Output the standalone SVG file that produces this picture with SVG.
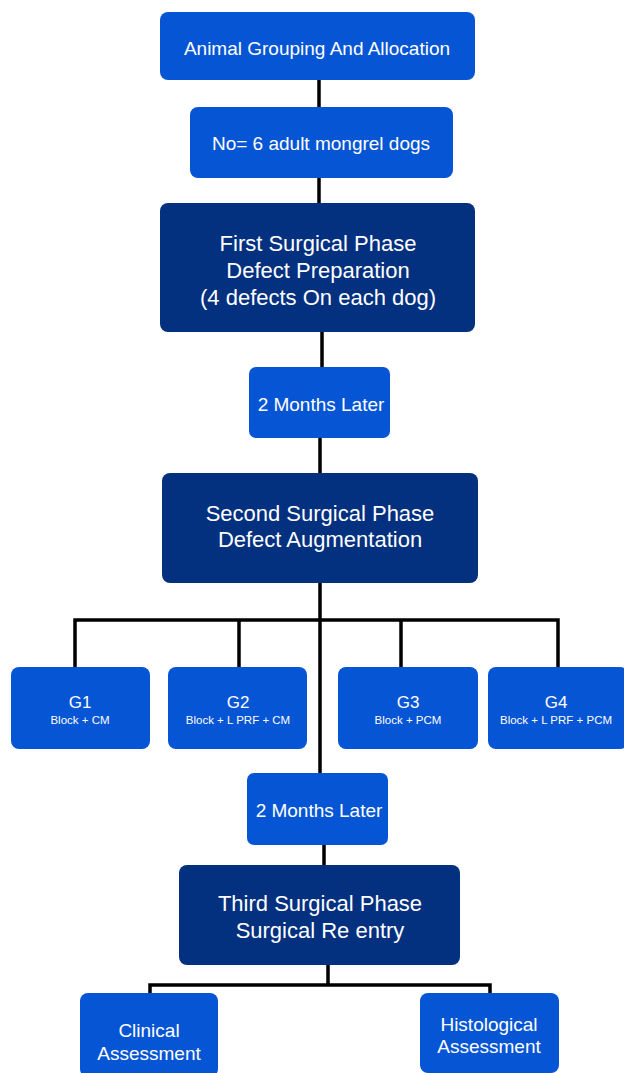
<svg xmlns="http://www.w3.org/2000/svg" width="624" height="1073" viewBox="0 0 624 1073">
<style>
.lt{fill:#0655D4}
.dk{fill:#03307F}
text{fill:#fff;font-family:"Liberation Sans",Arial,Helvetica,sans-serif;text-anchor:middle;dominant-baseline:central}
.t19{font-size:19px}
.t22{font-size:22px}
.tg{font-size:17px}
.ts{font-size:11.5px}
.c{stroke:#000;stroke-width:3.5;fill:none}
</style>
<rect width="624" height="1073" fill="#fff"/>
<g id="connectors">
<line class="c" x1="319" y1="78" x2="319" y2="109"/>
<line class="c" x1="319" y1="176" x2="319" y2="205"/>
<line class="c" x1="322" y1="330" x2="322" y2="369"/>
<line class="c" x1="320" y1="436" x2="320" y2="475"/>
<line class="c" x1="320" y1="581" x2="320" y2="775"/>
<polyline class="c" points="75,669 75,620 558,620 558,669"/>
<line class="c" x1="239" y1="620" x2="239" y2="669"/>
<line class="c" x1="401" y1="620" x2="401" y2="669"/>
<line class="c" x1="324" y1="843" x2="324" y2="867"/>
<line class="c" x1="328" y1="963" x2="328" y2="985"/>
<polyline class="c" points="150,995 150,985 490,985 490,995"/>
</g>
<g id="n1"><rect class="lt" x="160" y="12" width="315" height="68" rx="8"/><text class="t19" x="317" y="48">Animal Grouping And Allocation</text></g>
<g id="n2"><rect class="lt" x="190" y="107" width="263" height="71" rx="8"/><text class="t19" x="321" y="143">No= 6 adult mongrel dogs</text></g>
<g id="n3"><rect class="dk" x="160" y="203" width="315" height="129" rx="8"/><text class="t22" x="318" y="243">First Surgical Phase</text><text class="t22" x="318" y="270">Defect Preparation</text><text class="t22" x="318" y="297">(4 defects On each dog)</text></g>
<g id="n4"><rect class="lt" x="249" y="367" width="141" height="71" rx="7"/><text class="t19" x="321" y="404">2 Months Later</text></g>
<g id="n5"><rect class="dk" x="162" y="473" width="316" height="110" rx="8"/><text class="t22" x="320" y="513">Second Surgical Phase</text><text class="t22" x="320" y="539">Defect Augmentation</text></g>
<g id="g1"><rect class="lt" x="11" y="667" width="139" height="82" rx="8"/><text class="tg" x="80" y="702">G1</text><text class="ts" x="80" y="720">Block + CM</text></g>
<g id="g2"><rect class="lt" x="168" y="667" width="139" height="82" rx="8"/><text class="tg" x="238" y="702">G2</text><text class="ts" x="238" y="720">Block + L PRF + CM</text></g>
<g id="g3"><rect class="lt" x="338" y="667" width="140" height="82" rx="8"/><text class="tg" x="408" y="702">G3</text><text class="ts" x="408" y="720">Block + PCM</text></g>
<g id="g4"><rect class="lt" x="488" y="667" width="140" height="82" rx="8"/><text class="tg" x="556" y="702">G4</text><text class="ts" x="556" y="720">Block + L PRF + PCM</text></g>
<g id="n6"><rect class="lt" x="247" y="773" width="141" height="72" rx="7"/><text class="t19" x="319" y="810">2 Months Later</text></g>
<g id="n7"><rect class="dk" x="179" y="865" width="281" height="100" rx="8"/><text class="t22" x="320" y="903">Third Surgical Phase</text><text class="t22" x="320" y="930">Surgical Re entry</text></g>
<g id="n8"><rect class="lt" x="80" y="993" width="138" height="84" rx="8"/><text class="t19" x="149" y="1030">Clinical</text><text class="t19" x="149" y="1053">Assessment</text></g>
<g id="n9"><rect class="lt" x="420" y="993" width="139" height="80" rx="8"/><text class="t19" x="489" y="1024">Histological</text><text class="t19" x="489" y="1046">Assessment</text></g>
</svg>
